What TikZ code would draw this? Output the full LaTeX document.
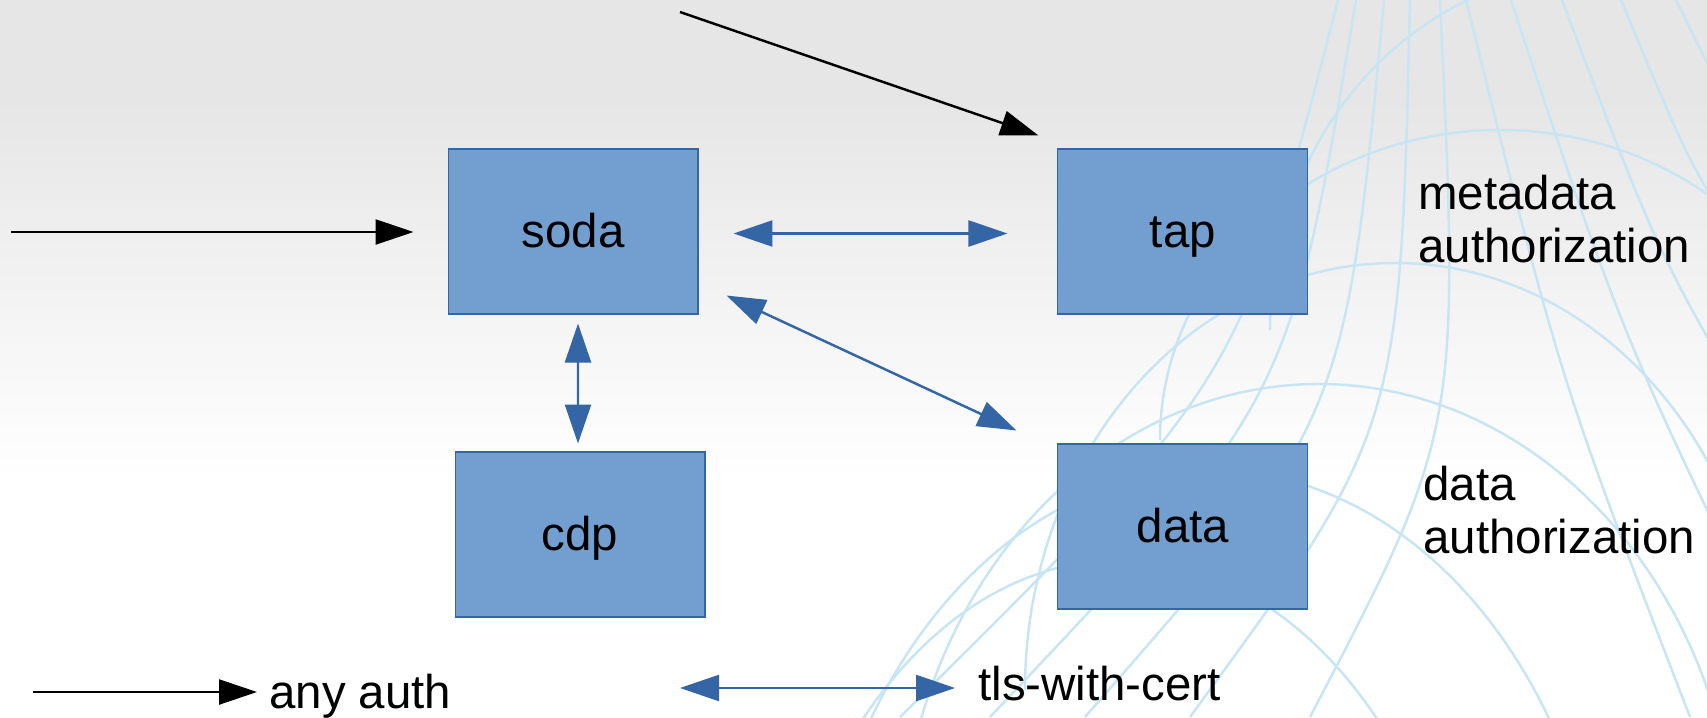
\documentclass[tikz,border=0pt]{standalone}
\usepackage{fontspec}
\setmainfont{Liberation Sans}
\usetikzlibrary{arrows.meta, positioning}
\definecolor{boxblue}{RGB}{114,159,207}
\definecolor{edgeblue}{RGB}{52,101,164}
\definecolor{bggray}{RGB}{230,230,230}
\definecolor{globeline}{RGB}{200,229,243}

\begin{document}
\begin{tikzpicture}[x=0.02cm, y=-0.02cm,
    box/.style={draw=edgeblue, fill=boxblue, line width=0.6pt,
        minimum width=5cm, minimum height=3.3cm, inner sep=0pt,
        font=\fontsize{27}{30}\selectfont, text height=24.8pt, text depth=6.8pt},
    note/.style={inner sep=0pt, font=\fontsize{27}{30.2}\selectfont, align=left},
    keytext/.style={inner sep=0pt, font=\fontsize{27}{30}\selectfont,
        text height=24.8pt, text depth=6.8pt},
    anyarr/.style={-{Triangle[length=0.76cm, width=0.5cm]}, black, line width=1.4pt},
    tlsarr/.style={{Triangle[length=0.78cm, width=0.52cm]}-{Triangle[length=0.78cm, width=0.52cm]},
        edgeblue, line width=1.4pt},
    globe/.style={globeline, line width=1.4pt}
  ]
  \useasboundingbox (0,0) rectangle (1707,717);

  % background
  \fill[bggray] (0,0) rectangle (1707,100);
  \shade[top color=bggray, bottom color=white] (0,100) rectangle (1707,480);
  \fill[white] (0,480) rectangle (1707,717);

  \begin{scope}
    \clip (0,0) rectangle (1707,717);
    % parallels
    \draw[globe] (1270,330) arc[start angle=180, end angle=360, x radius=330, y radius=360];
    \draw[globe] (1160,440) arc[start angle=180, end angle=360, x radius=340, y radius=310];
    \draw[globe] (1025,690) arc[start angle=180, end angle=360, x radius=370, y radius=427];
    \draw[globe] (899,877) arc[start angle=180, end angle=360, x radius=420, y radius=493];
    \draw[globe] (810,1000) arc[start angle=180, end angle=360, x radius=400, y radius=530];
    \draw[globe] (760,1090) arc[start angle=180, end angle=360, x radius=360, y radius=530];
    % meridians
    \draw[globe] (1338,0) .. controls (1240,380) .. (900,717);
    \draw[globe] (1356,0) .. controls (1290,400) .. (990,717);
    \draw[globe] (1384,0) .. controls (1345,420) .. (1085,717);
    \draw[globe] (1410,0) .. controls (1400,430) .. (1190,717);
    \draw[globe] (1440,0) .. controls (1460,430) .. (1310,717);
    \draw[globe] (1466,0) .. controls (1560,380) .. (1690,717);
    \draw[globe] (1511,0) .. controls (1620,330) .. (1760,620);
    \draw[globe] (1562,0) .. controls (1660,260) .. (1780,460);
    \draw[globe] (1621,0) .. controls (1700,190) .. (1790,300);
    \draw[globe] (1676,0) .. controls (1730,110) .. (1790,170);
  \end{scope}

  % services
  \node[box] (soda) at (573,231.5) {soda};
  \node[box, right=7.18cm of soda] (tap) {tap};
  \node[box, below=2.74cm of soda, xshift=0.14cm] (cdp) {cdp};
  \node[box, below=2.58cm of tap] (data) {data};

  \node[note, anchor=west] (metaauth) at (1418,219.5) {metadata\\authorization};
  \node[note, anchor=west] (dataauth) at (1423,510.5) {data\\authorization};

  % legend
  \node[keytext, anchor=west] (anyauth) at (269,693) {any auth};
  \node[keytext, anchor=west] (tlscert) at (978,685) {tls-with-cert};

  \coordinate (inSoda) at (11,232);
  \coordinate (inTap) at (680,12);
  \coordinate (keyAny) at (33,692);
  \coordinate (keyTls) at (680,688);

  \draw[anyarr, shorten >=0.68cm] (inSoda) -- (inSoda -| soda.west);
  \draw[anyarr] (inTap) -- ([xshift=-0.38cm, yshift=0.26cm]tap.north west);
  \draw[tlsarr, shorten <=0.7cm, shorten >=1cm] ([yshift=-0.04cm]soda.east) -- ([yshift=-0.04cm]tap.west);
  \draw[tlsarr] ([xshift=0.1cm, yshift=-0.18cm]soda.south) -- ([xshift=-0.04cm, yshift=0.16cm]cdp.north);
  \draw[tlsarr] ([xshift=0.56cm, yshift=0.38cm]soda.south east) -- ([xshift=-0.82cm, yshift=0.26cm]data.north west);

  \draw[anyarr, shorten >=0.24cm] (keyAny) -- (keyAny -| anyauth.west);
  \draw[tlsarr, shorten >=0.46cm] (keyTls) -- (keyTls -| tlscert.west);
\end{tikzpicture}
\end{document}
